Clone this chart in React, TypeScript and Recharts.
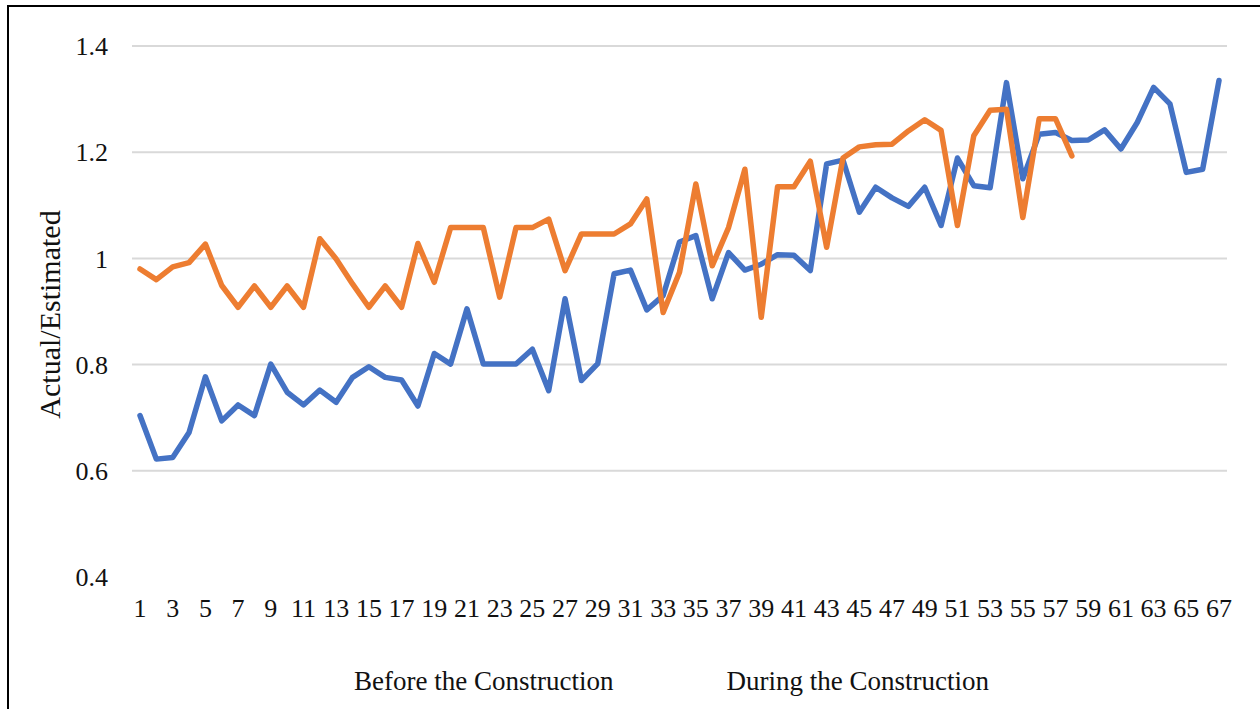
import { LineChart, Line, XAxis, YAxis, CartesianGrid, Label } from 'recharts';

const CATEGORIES = Array.from({ length: 67 }, (_, i) => i + 1);

const BEFORE = [
  0.704, 0.622, 0.625, 0.672, 0.777, 0.694, 0.724, 0.704, 0.801, 0.748,
  0.724, 0.752, 0.729, 0.776, 0.796, 0.776, 0.771, 0.722, 0.821, 0.801,
  0.905, 0.801, 0.801, 0.801, 0.829, 0.751, 0.924, 0.770, 0.802, 0.971,
  0.978, 0.903, 0.930, 1.031, 1.043, 0.924, 1.011, 0.978, 0.989, 1.007,
  1.006, 0.977, 1.178, 1.185, 1.087, 1.134, 1.114, 1.098, 1.134, 1.062,
  1.189, 1.137, 1.133, 1.331, 1.150, 1.234, 1.237, 1.222, 1.223, 1.242,
  1.206, 1.256, 1.322, 1.291, 1.162, 1.168, 1.335,
];

const DURING = [
  0.980, 0.960, 0.984, 0.992, 1.027, 0.949, 0.908, 0.948, 0.908, 0.948,
  0.908, 1.037, 0.999, 0.952, 0.908, 0.948, 0.908, 1.028, 0.955, 1.058,
  1.058, 1.058, 0.927, 1.058, 1.058, 1.074, 0.977, 1.046, 1.046, 1.046,
  1.065, 1.112, 0.898, 0.974, 1.140, 0.986, 1.058, 1.168, 0.889, 1.135,
  1.135, 1.183, 1.021, 1.189, 1.210, 1.214, 1.215, 1.240, 1.261, 1.241,
  1.062, 1.231, 1.279, 1.281, 1.077, 1.263, 1.263, 1.193,
];

const Y_TICKS = [0.4, 0.6, 0.8, 1.0, 1.2, 1.4];
const GRID_VALUES = [0.6, 0.8, 1.0, 1.2, 1.4];

const SERIES = [
  { key: 'before', name: 'Before the Construction', color: '#4472C4' },
  { key: 'during', name: 'During the Construction', color: '#ED7D31' },
];

const data = CATEGORIES.map((c, i) => ({
  cat: c,
  before: BEFORE[i],
  during: DURING[i],
}));

const FONT = '"Liberation Serif", "Times New Roman", serif';

export default function App() {
  return (
    <div
      style={{
        position: 'fixed',
        left: 0,
        top: 0,
        width: 1260,
        height: 709,
        background: '#fff',
        fontFamily: FONT,
      }}
    >
      <div
        style={{
          position: 'absolute',
          left: 7,
          top: 5,
          right: -10,
          bottom: -10,
          borderTop: '2px solid #000',
          borderLeft: '2px solid #000',
        }}
      />
      <LineChart
        width={1260}
        height={709}
        data={data}
        margin={{ top: 46, right: 33, bottom: 72, left: 0 }}
      >
        <CartesianGrid
          vertical={false}
          horizontalValues={GRID_VALUES}
          stroke="#d9d9d9"
          strokeWidth={2}
        />
        <XAxis
          dataKey="cat"
          interval={1}
          height={60}
          axisLine={false}
          tickLine={false}
          tickSize={0}
          tickMargin={22}
          padding={{ left: 8, right: 8 }}
          tick={{ fill: '#111', fontSize: 26, fontFamily: FONT }}
        />
        <YAxis
          domain={[0.4, 1.4]}
          ticks={Y_TICKS}
          width={132}
          axisLine={false}
          tickLine={false}
          tickSize={0}
          tickMargin={24}
          tickFormatter={(v: number) => (v === 1 ? '1' : v.toFixed(1))}
          tick={{ fill: '#111', fontSize: 26, fontFamily: FONT }}
        >
          <Label
            content={({ viewBox }: any) => {
              const cx = viewBox.x + 49;
              const cy = viewBox.y + viewBox.height / 2 + 3;
              return (
                <text
                  x={cx}
                  y={cy}
                  transform={`rotate(-90 ${cx} ${cy})`}
                  textAnchor="middle"
                  dominantBaseline="central"
                  fill="#111"
                  fontSize={30}
                  fontFamily={FONT}
                >
                  Actual/Estimated
                </text>
              );
            }}
          />
        </YAxis>
        {SERIES.map((s) => (
          <Line
            key={s.key}
            type="linear"
            dataKey={s.key}
            name={s.name}
            stroke={s.color}
            strokeWidth={5.5}
            strokeLinejoin="round"
            strokeLinecap="round"
            dot={false}
            activeDot={false}
            isAnimationActive={false}
          />
        ))}
      </LineChart>
      <div
        style={{
          position: 'absolute',
          top: 666,
          left: 354,
          display: 'flex',
          gap: 113,
          fontSize: 27,
          lineHeight: '30px',
          color: '#111',
          whiteSpace: 'nowrap',
        }}
      >
        {SERIES.map((s) => (
          <span key={s.key}>{s.name}</span>
        ))}
      </div>
    </div>
  );
}
